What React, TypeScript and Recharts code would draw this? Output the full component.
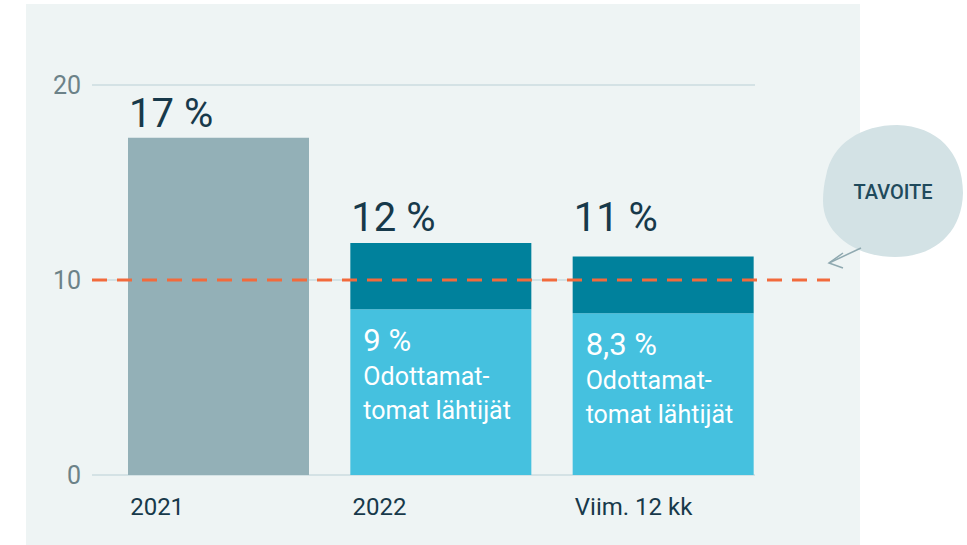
import React from "react";
import {
	Bar,
	BarChart,
	CartesianGrid,
	LabelList,
	ReferenceLine,
	XAxis,
	YAxis,
} from "recharts";

const categories = ["2021", "2022", "Viim. 12 kk"];
const previousYear = [17.3, 0, 0];
const unexpectedLeavers = [0, 8.5, 8.3];
const otherLeavers = [0, 3.4, 2.9];
const topLabels = ["17 %", "12 %", "11 %"];
const innerLabels = ["", "9 %", "8,3 %"];
const innerCaption = ["Odottamat-", "tomat lähtijät"];
const yTicks = [0, 10, 20];
const target = 10;
const targetLabel = "TAVOITE";

const data = categories.map((name, i) => ({
	name,
	previous: previousYear[i],
	unexpected: unexpectedLeavers[i],
	other: otherLeavers[i],
}));

const FONT = "Roboto, 'Noto Sans', sans-serif";
const DARK = "#17394a";
const topLabelLift = [11, 12, 26];

const XTick = (props: any) => {
	const { x, y, payload } = props;
	return (
		<text
			x={x - 88}
			y={y + 32}
			fontFamily={FONT}
			fontSize={24}
			fill={DARK}
		>
			{payload.value}
		</text>
	);
};

const YTick = (props: any) => {
	const { y, payload } = props;
	return (
		<text
			x={81}
			y={y + 9}
			textAnchor="end"
			fontFamily={FONT}
			fontSize={25}
			fill="#6c8288"
		>
			{payload.value}
		</text>
	);
};

// top label goes on whichever series is the top of the stack for that category
const TopLabel = (props: any) => {
	const { x, y, value, series } = props;
	const i = categories.indexOf(value);
	if (i < 0) return null;
	const topSeries = otherLeavers[i] > 0 ? "other" : "previous";
	if (series !== topSeries) return null;
	return (
		<text
			x={x + 1}
			y={y - topLabelLift[i]}
			fontFamily={FONT}
			fontSize={40}
			fill={DARK}
		>
			{topLabels[i]}
		</text>
	);
};

const InnerLabel = (props: any) => {
	const { x, y, value } = props;
	const i = categories.indexOf(value);
	if (i < 0 || !innerLabels[i]) return null;
	return (
		<g fontFamily={FONT} fill="#ffffff">
			<text x={x + 13} y={y + 42} fontSize={31}>
				{innerLabels[i]}
			</text>
			<text x={x + 13} y={y + 76} fontSize={25}>
				{innerCaption[0]}
			</text>
			<text x={x + 13} y={y + 110} fontSize={25}>
				{innerCaption[1]}
			</text>
		</g>
	);
};

const gridLine = (props: any) => {
	const { x1, y1, y2, index } = props;
	return (
		<line
			key={`g-${index}`}
			x1={x1}
			x2={755}
			y1={y1}
			y2={y2}
			stroke="#d4e2e5"
			strokeWidth={2}
		/>
	);
};

export default function App() {
	return (
		<div
			style={{
				position: "absolute",
				left: 0,
				top: 0,
				width: 967,
				height: 545,
				background: "#ffffff",
			}}
		>
			<div
				style={{
					position: "absolute",
					left: 26,
					top: 4,
					width: 834,
					height: 541,
					background: "#eef4f4",
				}}
			/>
			<div style={{ position: "absolute", left: 0, top: 0 }}>
				<BarChart
					width={967}
					height={545}
					data={data}
					margin={{ top: 85, right: 137, bottom: 0, left: 0 }}
				>
					<CartesianGrid vertical={false} horizontal={gridLine} />
					<XAxis
						dataKey="name"
						height={70}
						axisLine={false}
						tickLine={false}
						tick={<XTick />}
						padding={{ left: 15, right: 56 }}
						interval={0}
					/>
					<YAxis
						width={92}
						domain={[0, 20]}
						ticks={yTicks}
						axisLine={false}
						tickLine={false}
						tick={<YTick />}
					/>
					<Bar
						dataKey="previous"
						stackId="a"
						fill="#93b0b7"
						barSize={181}
						isAnimationActive={false}
					>
						<LabelList dataKey="name" content={<TopLabel series="previous" />} />
					</Bar>
					<Bar
						dataKey="unexpected"
						stackId="a"
						fill="#45c1df"
						barSize={181}
						isAnimationActive={false}
					>
						<LabelList dataKey="name" content={<InnerLabel />} />
					</Bar>
					<Bar
						dataKey="other"
						stackId="a"
						fill="#00819c"
						barSize={181}
						isAnimationActive={false}
					>
						<LabelList dataKey="name" content={<TopLabel series="other" />} />
					</Bar>
					<ReferenceLine
						y={target}
						stroke="#f26a3c"
						strokeWidth={3}
						strokeDasharray="15 10"
					/>
				</BarChart>
			</div>
			<svg
				width={967}
				height={545}
				style={{ position: "absolute", left: 0, top: 0, pointerEvents: "none" }}
			>
				<path
					d="M 826 176 C 832 143, 862 125, 897 125 C 937 126, 963 152, 963 193 C 962 233, 934 257, 895 257 C 856 257, 823 234, 823 201 C 823 192, 824 184, 826 176 Z"
					fill="#d3e2e5"
				/>
				<text
					x={893}
					y={199}
					textAnchor="middle"
					fontFamily={FONT}
					fontSize={20}
					fontWeight={500}
					fill="#1f4a5c"
				>
					{targetLabel}
				</text>
				<g stroke="#8fa9b0" strokeWidth={1.5} fill="none">
					<line x1={861} y1={248} x2={829} y2={263} />
					<polyline points="843,253 829,263 843,268" />
				</g>
			</svg>
		</div>
	);
}
